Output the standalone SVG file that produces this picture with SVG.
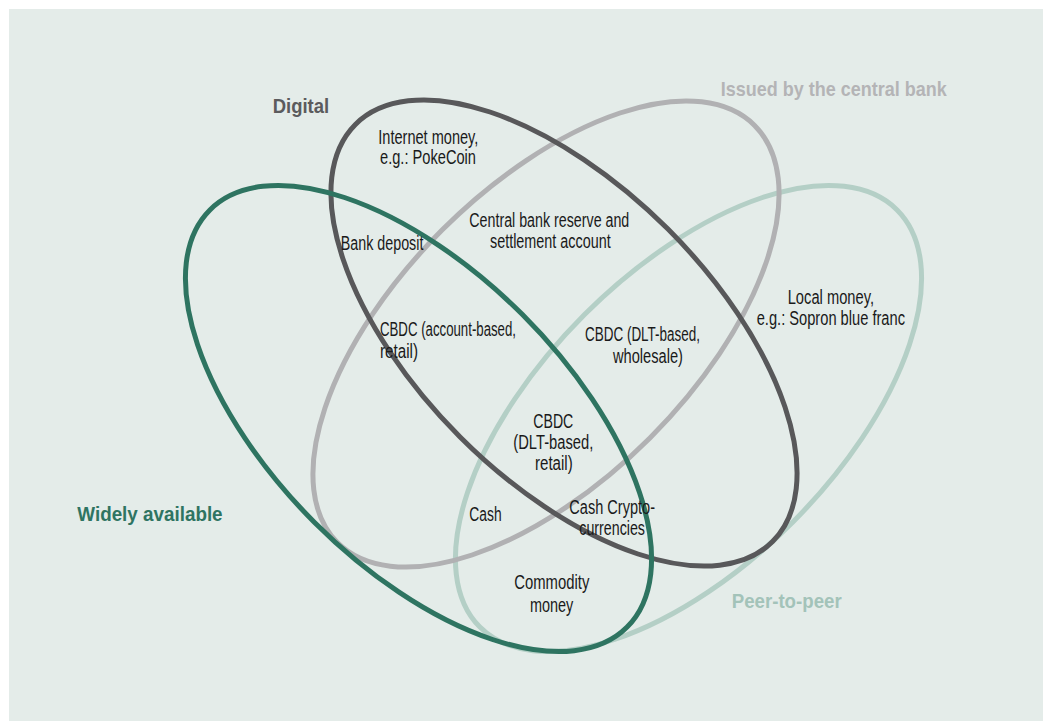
<svg xmlns="http://www.w3.org/2000/svg" width="1043" height="721" viewBox="0 0 1043 721">
<style>
.set{fill:none;stroke-width:5}
.t{font-family:"Liberation Sans Narrow","Liberation Sans",Arial,sans-serif;font-size:19.5px;fill:#1a1a1a}
.h{font-family:"Liberation Sans Narrow","Liberation Sans",Arial,sans-serif;font-size:21px;font-weight:bold}
</style>
<rect x="0" y="0" width="1043" height="721" fill="#ffffff"/>
<rect x="9" y="9" width="1034" height="712" fill="#e4ece9"/>
<g id="set-p2p">
<ellipse class="set" cx="688.5" cy="418.5" rx="295" ry="147" transform="rotate(-45 688.5 418.5)" stroke="#b4cfc6"/>
<text class="h" x="731.7" y="607.5" textLength="110" lengthAdjust="spacingAndGlyphs" fill="#a3c3b9">Peer-to-peer</text>
</g>
<g id="set-central">
<ellipse class="set" cx="546" cy="334" rx="295" ry="147" transform="rotate(-45 546 334)" stroke="#b1b1b3"/>
<text class="h" x="720.7" y="96" textLength="226" lengthAdjust="spacingAndGlyphs" fill="#b4b4b6">Issued by the central bank</text>
</g>
<g id="set-digital">
<ellipse class="set" cx="564" cy="333" rx="295" ry="147" transform="rotate(45 564 333)" stroke="#58585a"/>
<text class="h" x="272.7" y="112.7" textLength="56.5" lengthAdjust="spacingAndGlyphs" fill="#5b5b5d">Digital</text>
</g>
<g id="set-wide">
<ellipse class="set" cx="418.5" cy="418.5" rx="295" ry="147" transform="rotate(45 418.5 418.5)" stroke="#2e7461"/>
<text class="h" x="77.3" y="520.7" textLength="145.3" lengthAdjust="spacingAndGlyphs" fill="#2f7462">Widely available</text>
</g>
<g id="connectors"></g>
<g id="internet-money">
<text class="t" x="378.3" y="143.5" textLength="100" lengthAdjust="spacingAndGlyphs">Internet money,</text>
<text class="t" x="380" y="164" textLength="96" lengthAdjust="spacingAndGlyphs">e.g.: PokeCoin</text>
</g>
<g id="cb-reserve">
<text class="t" x="469.3" y="226.7" textLength="160" lengthAdjust="spacingAndGlyphs">Central bank reserve and</text>
<text class="t" x="490" y="248" textLength="120.7" lengthAdjust="spacingAndGlyphs">settlement account</text>
</g>
<g id="bank-deposit">
<text class="t" x="340.7" y="250" textLength="82.7" lengthAdjust="spacingAndGlyphs">Bank deposit</text>
</g>
<g id="cbdc-account">
<text class="t" x="380" y="336" textLength="136" lengthAdjust="spacingAndGlyphs">CBDC (account-based,</text>
<text class="t" x="380" y="358" textLength="38" lengthAdjust="spacingAndGlyphs">retail)</text>
</g>
<g id="cbdc-wholesale">
<text class="t" x="585" y="341" textLength="115" lengthAdjust="spacingAndGlyphs">CBDC (DLT-based,</text>
<text class="t" x="613" y="363" textLength="70" lengthAdjust="spacingAndGlyphs">wholesale)</text>
</g>
<g id="local-money">
<text class="t" x="787.7" y="304" textLength="86.3" lengthAdjust="spacingAndGlyphs">Local money,</text>
<text class="t" x="756.7" y="325" textLength="148.3" lengthAdjust="spacingAndGlyphs">e.g.: Sopron blue franc</text>
</g>
<g id="cbdc-retail">
<text class="t" x="533.3" y="427.7" textLength="40" lengthAdjust="spacingAndGlyphs">CBDC</text>
<text class="t" x="513.3" y="448.5" textLength="80" lengthAdjust="spacingAndGlyphs">(DLT-based,</text>
<text class="t" x="535" y="470" textLength="37.7" lengthAdjust="spacingAndGlyphs">retail)</text>
</g>
<g id="cash">
<text class="t" x="469.3" y="520.7" textLength="32.3" lengthAdjust="spacingAndGlyphs">Cash</text>
</g>
<g id="crypto">
<text class="t" x="569.3" y="514" textLength="85.7" lengthAdjust="spacingAndGlyphs">Cash Crypto-</text>
<text class="t" x="579.3" y="535" textLength="65.7" lengthAdjust="spacingAndGlyphs">currencies</text>
</g>
<g id="commodity">
<text class="t" x="514.3" y="589" textLength="75" lengthAdjust="spacingAndGlyphs">Commodity</text>
<text class="t" x="530" y="611.7" textLength="43.3" lengthAdjust="spacingAndGlyphs">money</text>
</g>
</svg>
